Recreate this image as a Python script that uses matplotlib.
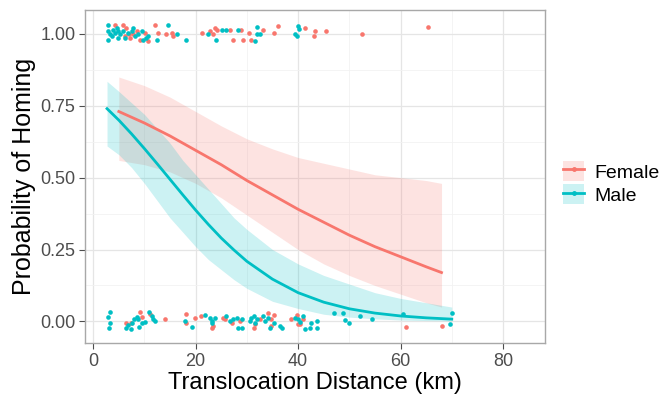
import matplotlib
matplotlib.use("Agg")
import matplotlib.pyplot as plt
from matplotlib.lines import Line2D
from matplotlib.patches import Patch

plt.rcParams['font.family'] = ['Liberation Sans', 'DejaVu Sans']

RED = '#F8766D'
CYAN = '#00BFC4'

# fitted curves + ribbons
female_x = [5, 10, 15, 20, 25, 30, 35, 40, 45, 50, 55, 60, 65, 68]
female_fit = [0.73, 0.69, 0.645, 0.595, 0.545, 0.49, 0.44, 0.39, 0.345, 0.30, 0.26, 0.225, 0.19, 0.17]
female_hi = [0.85, 0.82, 0.78, 0.73, 0.68, 0.635, 0.60, 0.57, 0.55, 0.53, 0.51, 0.50, 0.49, 0.48]
female_lo = [0.56, 0.545, 0.52, 0.48, 0.43, 0.37, 0.31, 0.25, 0.20, 0.16, 0.125, 0.095, 0.065, 0.05]

male_x = [2.7, 5, 7.5, 10, 12.5, 15, 17.5, 20, 22.5, 25, 27.5, 30, 35, 40, 45, 50, 55, 60, 65, 70]
male_fit = [0.74, 0.70, 0.652, 0.601, 0.548, 0.494, 0.44, 0.387, 0.337, 0.29, 0.248, 0.209,
            0.147, 0.10, 0.067, 0.044, 0.029, 0.019, 0.0125, 0.008]
male_hi = [0.835, 0.80, 0.76, 0.72, 0.67, 0.62, 0.56, 0.51, 0.46, 0.41, 0.36, 0.32,
           0.25, 0.20, 0.16, 0.13, 0.10, 0.08, 0.065, 0.05]
male_lo = [0.61, 0.58, 0.535, 0.48, 0.42, 0.36, 0.31, 0.26, 0.215, 0.18, 0.145, 0.115,
           0.07, 0.045, 0.025, 0.015, 0.009, 0.005, 0.003, 0.002]

# jittered observations
female_pts_x = [4.24, 5.86, 6.5, 7.0, 7.17, 6.19, 7.82, 8.47, 9.12, 10.1, 10.75, 12.05, 12.7, 14.3,
                15.3, 15.6, 21.2, 22.8, 23.3, 23.8, 24.2, 26.7, 28.8, 27.3, 29.3, 30.5, 30.9,
                33.1, 35.2, 36.1, 41.3, 43.1, 43.3, 45.4, 52.4, 65.4,
                6.5, 7.36, 9.12, 9.45, 11.1, 14.0, 18.2, 18.2, 19.9, 21.0, 23.2,
                23.4, 25.4, 25.7, 27.0, 28.7, 31.3, 31.6, 32.6, 34.2, 34.8, 34.8, 35.2,
                38.7, 40.0, 39.7, 40.9, 40.4, 61.0, 68.0]
female_pts_y = [1.032, 1.030, 1.021, 0.998, 0.986, 0.992, 0.998, 1.009, 0.980, 1.004, 0.975, 1.030,
                1.004, 0.998, 1.004, 0.992, 1.004, 1.009, 0.998, 1.021, 1.015, 1.015, 1.015,
                0.980, 0.977, 1.004, 0.980, 1.015, 1.004, 1.027, 1.021, 0.992, 1.009, 1.010,
                0.999, 1.025,
                -0.005, -0.005, 0.034, 0.015, 0.027, 0.007, 0.027, -0.005, 0.013, 0.019, -0.024,
                -0.016, 0.013, 0.007, -0.005, 0.001, -0.022, -0.010, 0.007, 0.030, 0.007,
                -0.016, 0.024, 0.007, -0.010, 0.022, 0.007, -0.01, -0.020, -0.016]

male_pts_x = [2.93, 2.81, 3.26, 2.93, 3.59, 3.91, 4.24, 4.56, 4.89, 4.76, 5.2, 5.86, 6.19, 6.84,
              7.62, 7.82, 8.14, 8.8, 9.45, 9.77, 10.4, 10.75, 12.4, 14.65, 16.3, 18.2, 22.5,
              24.0, 25.1, 26.0, 28.3, 31.6, 31.9, 31.9, 32.6, 39.4, 39.8, 40.0, 40.1,
              3.26, 2.8, 3.26, 3.07, 6.5, 6.84, 7.36, 7.49, 8.0, 8.47, 8.8, 8.93, 9.45, 10.1,
              10.9, 11.4, 11.7, 12.05, 17.9, 19.2, 21.8, 22.8, 23.2,
              23.1, 23.8, 26.0, 26.7, 27.3, 28.0, 28.3, 29.0, 29.0, 30.6, 30.9, 31.3, 31.6,
              31.9, 33.2, 33.5, 34.2, 34.5, 35.2, 36.5, 36.8, 39.4, 40.0, 40.4, 41.0, 41.3,
              42.3, 42.6, 43.6, 43.6, 47.0, 48.7, 49.2, 50.0, 52.1, 54.4, 60.5, 69.7, 70.1]
male_pts_y = [1.030, 1.009, 0.998, 0.980, 0.992, 1.015, 1.004, 1.021, 1.009, 0.986, 0.998, 1.009,
              0.986, 1.004, 1.009, 1.021, 0.992, 1.0, 1.009, 0.980, 0.986, 0.992, 0.980, 1.030,
              0.998, 0.980, 0.998, 0.977, 1.015, 1.015, 1.015, 0.975, 1.023, 1.0, 0.998,
              0.998, 0.992, 1.027, 1.018,
              0.034, 0.015, -0.005, -0.022, -0.024, -0.013, -0.028, -0.005, 0.007, 0.015, 0.007,
              -0.020, -0.005, -0.001, 0.034, 0.019, 0.007, 0.001, 0.003, -0.020, 0.022, 0.013,
              -0.005,
              0.001, 0.013, 0.019, 0.001, 0.007, 0.013, -0.022, -0.022, 0.007, 0.003, 0.013,
              0.019, -0.005, 0.007, 0.019, 0.001, 0.013, -0.022, -0.005, -0.016, -0.022, 0.013,
              0.007, -0.001, 0.019, -0.028, -0.022, -0.005, 0.003, -0.022, 0.028, 0.028,
              0.005, -0.007, 0.018, 0.007, 0.027, -0.010, 0.030]

fig = plt.figure(figsize=(6.72, 3.94), dpi=100)
ax = fig.add_axes([85 / 672, 1 - 343 / 394, 460 / 672, 333 / 394])

ax.fill_between(female_x, female_lo, female_hi, color=RED, alpha=0.2, lw=0, zorder=2)
ax.fill_between(male_x, male_lo, male_hi, color=CYAN, alpha=0.2, lw=0, zorder=2)
ax.plot(female_x, female_fit, color=RED, lw=2, zorder=3)
ax.plot(male_x, male_fit, color=CYAN, lw=2, zorder=3)
ax.scatter(female_pts_x, female_pts_y, s=11, color=RED, lw=0, zorder=4)
ax.scatter(male_pts_x, male_pts_y, s=11, color=CYAN, lw=0, zorder=4)

ax.set_xlim(-1.6, 88.2)
ax.set_ylim(-0.075, 1.083)
ax.set_xticks([0, 20, 40, 60, 80])
ax.set_xticks([10, 30, 50, 70], minor=True)
ax.set_yticks([0, 0.25, 0.5, 0.75, 1.0])
ax.set_yticklabels(['0.00', '0.25', '0.50', '0.75', '1.00'])
ax.set_yticks([0.125, 0.375, 0.625, 0.875], minor=True)
ax.grid(which='major', color='#E5E5E5', lw=0.9, zorder=0)
ax.grid(which='minor', color='#F2F2F2', lw=0.6, zorder=0)
ax.set_axisbelow(True)
for s in ax.spines.values():
    s.set_color('#A8A8A8')
    s.set_linewidth(1)
ax.tick_params(which='major', length=4, color='#4D4D4D', labelsize=13, labelcolor='#4D4D4D', pad=3)
ax.tick_params(which='minor', length=0)
ax.set_xlabel('Translocation Distance (km)', fontsize=17, labelpad=2)
ax.set_ylabel('Probability of Homing', fontsize=18, labelpad=3)

handles = [(Patch(facecolor=RED, alpha=0.2, lw=0), Line2D([], [], color=RED, lw=2, marker='o', markersize=2.5)),
           (Patch(facecolor=CYAN, alpha=0.2, lw=0), Line2D([], [], color=CYAN, lw=2, marker='o', markersize=2.5))]
fig.legend(handles, ['Female', 'Male'], loc='center left', bbox_to_anchor=(563 / 672, 1 - 183 / 394),
           frameon=False, fontsize=14, handlelength=1.1, handleheight=1.2, handletextpad=0.5,
           labelspacing=0.15, borderpad=0, borderaxespad=0)

fig.savefig('out.png', dpi=100)
